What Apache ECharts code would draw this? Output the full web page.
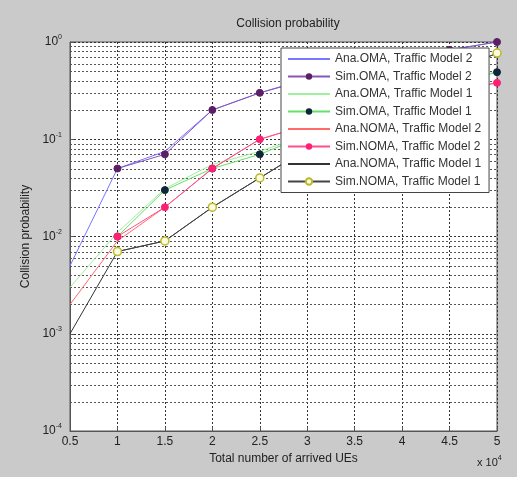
<!DOCTYPE html>
<html>
<head>
<meta charset="utf-8">
<script src="https://cdn.jsdelivr.net/npm/echarts@6/dist/echarts.min.js"></script>
<style>
  html, body { margin: 0; padding: 0; background: #cacaca; }
  #chart { width: 517px; height: 477px; }
</style>
</head>
<body>
<div id="chart"></div>
<script>
// x in units of 10^4 arrived UEs
var xTicks = [0.5, 1, 1.5, 2, 2.5, 3, 3.5, 4, 4.5, 5];

// analytical curves
var anaOmaTm2  = [0.005, 0.05, 0.075, 0.2, 0.3, 0.42, 0.55, 0.68, 0.83, 1.0];
var anaOmaTm1  = [0.003, 0.011, 0.031, 0.055, 0.075, 0.11, 0.17, 0.25, 0.36, 0.5];
var anaNomaTm2 = [0.002, 0.009, 0.02, 0.05, 0.1, 0.14, 0.19, 0.25, 0.31, 0.38];
var anaNomaTm1 = [0.001, 0.007, 0.009, 0.02, 0.04, 0.08, 0.15, 0.28, 0.47, 0.77];

// simulation points
var simOmaTm2  = [null, 0.05, 0.07, 0.2, 0.3, 0.41, 0.54, 0.68, 0.83, 1.0];
var simOmaTm1  = [null, 0.01, 0.03, 0.05, 0.07, 0.11, 0.17, 0.25, 0.36, 0.49];
var simNomaTm2 = [null, 0.01, 0.02, 0.05, 0.1, 0.14, 0.19, 0.25, 0.31, 0.38];
var simNomaTm1 = [null, 0.007, 0.009, 0.02, 0.04, 0.08, 0.15, 0.28, 0.47, 0.77];

// minor log grid values (2..9 x 10^k)
var minorGrid = [];
[-4, -3, -2, -1].forEach(function (k) {
  for (var m = 2; m <= 9; m++) minorGrid.push(+(m * Math.pow(10, k)).toPrecision(3));
});

function pairs(arr) {
  var out = [];
  arr.forEach(function (v, i) { if (v != null) out.push([xTicks[i], v]); });
  return out;
}

var myChart = echarts.init(document.getElementById("chart"));

function anaSeries(name, data, color) {
  return {
    name: name, type: "line", data: pairs(data), symbol: "none",
    lineStyle: { color: color, width: 1 }, itemStyle: { color: color }, z: 3
  };
}
function simSeries(name, data, lineColor, dotColor, hollow) {
  return {
    name: name, type: "line", data: pairs(data), symbol: "circle",
    symbolSize: hollow ? 8 : 7, showSymbol: true,
    lineStyle: { color: lineColor, width: 1 },
    itemStyle: hollow
      ? { color: "#fbfbe0", borderColor: "#b9b92a", borderWidth: 1.5 }
      : { color: dotColor, borderColor: dotColor },
    z: 4
  };
}

var option = {
  backgroundColor: "#cacaca",
  animation: false,
  textStyle: { fontFamily: "Liberation Sans, Arial, sans-serif" },
  title: {
    text: "Collision probability",
    left: 283, top: 13, textAlign: "center",
    textStyle: { fontSize: 12, fontWeight: "normal", color: "#222" }
  },
  grid: { left: 70, right: 20, top: 42, bottom: 46, show: true, backgroundColor: "#fff", borderColor: "#555", borderWidth: 1 },
  legend: {
    orient: "vertical", left: 281, top: 48,
    itemWidth: 42, itemHeight: 8, itemGap: 5.5,
    padding: [5, 8, 5, 6],
    backgroundColor: "#fff", borderColor: "#444", borderWidth: 1, borderRadius: 0,
    textStyle: { fontSize: 12, color: "#333" },
    z: 10
  },
  xAxis: {
    type: "value", min: 0.5, max: 5, interval: 0.5,
    name: "Total number of arrived UEs", nameLocation: "middle", nameGap: 21,
    nameTextStyle: { fontSize: 12, color: "#222" },
    axisLine: { lineStyle: { color: "#555" } },
    axisTick: { inside: true, length: 4, lineStyle: { color: "#555" } },
    axisLabel: { fontSize: 12, color: "#222", margin: 5 },
    splitLine: { show: true, lineStyle: { color: "#333", type: [2, 2], width: 1 } }
  },
  yAxis: {
    type: "log", logBase: 10, min: 0.0001, max: 1,
    name: "Collision probability", nameLocation: "middle", nameGap: 38,
    nameTextStyle: { fontSize: 12, color: "#222" },
    axisLine: { lineStyle: { color: "#555" } },
    axisTick: { inside: true, length: 4, lineStyle: { color: "#555" } },
    axisLabel: {
      margin: 8,
      formatter: function (v) {
        return "{b|10}{s|" + Math.round(Math.log10(v)) + "}";
      },
      rich: {
        b: { fontSize: 12, color: "#222" },
        s: { fontSize: 7, color: "#222", verticalAlign: "top", padding: [0, 0, 9, 0] }
      }
    },
    splitLine: { show: true, lineStyle: { color: "#333", type: [2, 2], width: 1 } }
  },
  graphic: [{
    type: "text", left: 477, top: 455,
    style: {
      text: "{a|x 10}{s|4}",
      rich: {
        a: { fontSize: 11, fill: "#222" },
        s: { fontSize: 7, fill: "#222", verticalAlign: "top", padding: [0, 0, 8, 0] }
      }
    }
  }],
  series: [
    anaSeries("Ana.OMA, Traffic Model 2", anaOmaTm2, "#7777ff"),
    simSeries("Sim.OMA, Traffic Model 2", simOmaTm2, "#8a55b8", "#5b1f66"),
    anaSeries("Ana.OMA, Traffic Model 1", anaOmaTm1, "#9ff09f"),
    simSeries("Sim.OMA, Traffic Model 1", simOmaTm1, "#66e066", "#0c2838"),
    anaSeries("Ana.NOMA, Traffic Model 2", anaNomaTm2, "#ff6a6a"),
    simSeries("Sim.NOMA, Traffic Model 2", simNomaTm2, "#ff4f8f", "#ff1f74"),
    anaSeries("Ana.NOMA, Traffic Model 1", anaNomaTm1, "#333333"),
    simSeries("Sim.NOMA, Traffic Model 1", simNomaTm1, "#444444", "#cccc33", true),
    {
      // minor log grid lines, placed through the y scale
      name: "minor", type: "custom", silent: true, z: 1,
      data: minorGrid.map(function (v) { return [0.5, v]; }),
      encode: { x: 0, y: 1 },
      renderItem: function (params, api) {
        var p0 = api.coord([0.5, api.value(1)]);
        var p1 = api.coord([5, api.value(1)]);
        var y = Math.round(p0[1]) + 0.5;
        return {
          type: "line",
          shape: { x1: p0[0], y1: y, x2: p1[0], y2: y },
          style: { stroke: "#555", lineWidth: 1, lineDash: [2, 2] }
        };
      }
    }
  ]
};
option.legend.data = option.series.slice(0, 8).map(function (s, i) {
  // analytical entries have no marker in the legend
  return i % 2 === 0 ? { name: s.name, itemStyle: { opacity: 0 } } : s.name;
});

myChart.setOption(option);
</script>
</body>
</html>
